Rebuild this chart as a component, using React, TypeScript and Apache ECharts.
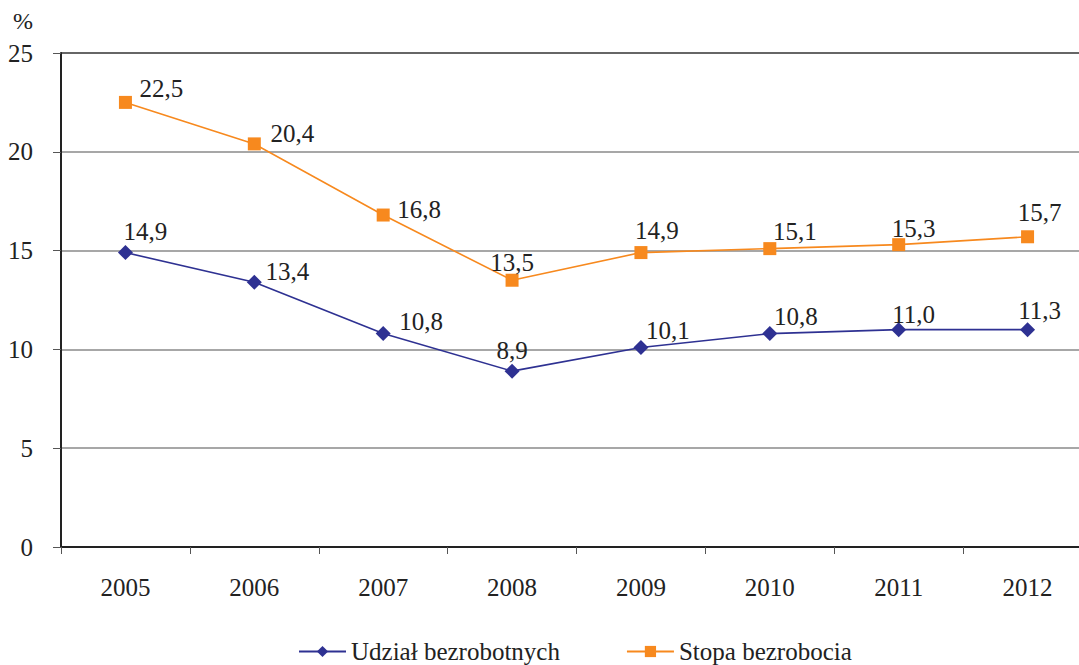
import React, { useEffect, useRef } from "react";
import * as echarts from "echarts";

const years = ["2005", "2006", "2007", "2008", "2009", "2010", "2011", "2012"];
const udzial = [14.9, 13.4, 10.8, 8.9, 10.1, 10.8, 11.0, 11.0];
const udzialLabels = ["14,9", "13,4", "10,8", "8,9", "10,1", "10,8", "11,0", "11,3"];
const stopa = [22.5, 20.4, 16.8, 13.5, 14.9, 15.1, 15.3, 15.7];
const stopaLabels = ["22,5", "20,4", "16,8", "13,5", "14,9", "15,1", "15,3", "15,7"];

const FONT = "'Liberation Serif', 'Times New Roman', Times, serif";
const BLUE = "#2E3192";
const ORANGE = "#F7891E";
const FS = 25;

// label offsets relative to the marker centre
const udzialShift = [[20, -21], [33, -11], [38, -12], [0, -21], [27, -17], [26, -17], [15, -15], [12, -19]];
const stopaShift = [[36, -14], [38, -10], [36, -6], [0, -18], [16, -22], [25, -17], [15, -16], [12, -24]];

export default function App() {
  const ref = useRef<HTMLDivElement>(null);
  useEffect(() => {
    if (!ref.current) return;
    const chart = echarts.init(ref.current, null, { renderer: "svg" });
    const mk = (vals: number[], labels: string[], shifts: number[][]) =>
      vals.map((v, i) => ({
        value: v,
        label: { formatter: labels[i], offset: shifts[i] },
      }));
    const labelStyle = {
      show: true,
      position: "inside",
      fontFamily: FONT,
      fontSize: FS,
      color: "#222",
    };
    chart.setOption({
      animation: false,
      textStyle: { fontFamily: FONT },
      grid: { left: 61, top: 53, right: 8, bottom: 118, containLabel: false },
      graphic: [
        {
          type: "text",
          left: 13,
          top: 9,
          style: { text: "%", fontFamily: FONT, fontSize: 24, fill: "#222" },
        },
      ],
      legend: {
        top: 634,
        left: 293,
        padding: [5, 5, 0, 5],
        itemWidth: 47,
        itemHeight: 14,
        itemGap: 66,
        textStyle: { fontFamily: FONT, fontSize: FS, color: "#222" },
        data: ["Udział bezrobotnych", "Stopa bezrobocia"],
      },
      xAxis: {
        type: "category",
        data: years,
        boundaryGap: true,
        axisLine: { lineStyle: { color: "#222", width: 2 } },
        axisTick: { show: true, length: 7, lineStyle: { color: "#555", width: 1 } },
        axisLabel: { fontFamily: FONT, fontSize: FS, color: "#222", margin: 28 },
      },
      yAxis: {
        type: "value",
        min: 0,
        max: 25,
        interval: 5,
        axisLine: { show: true, lineStyle: { color: "#222", width: 2 } },
        axisTick: { show: true, length: 8, lineStyle: { color: "#555" } },
        axisLabel: { fontFamily: FONT, fontSize: FS, color: "#222", margin: 28 },
        splitLine: {
          show: true,
          lineStyle: { color: ["#222", "#8a8a8a", "#8a8a8a", "#8a8a8a", "#8a8a8a", "#333"], width: 1.5 },
        },
      },
      series: [
        {
          name: "Udział bezrobotnych",
          type: "line",
          data: mk(udzial, udzialLabels, udzialShift),
          symbol: "diamond",
          symbolSize: [15, 15],
          itemStyle: { color: BLUE },
          lineStyle: { color: BLUE, width: 1.6 },
          label: labelStyle,
        },
        {
          name: "Stopa bezrobocia",
          type: "line",
          data: mk(stopa, stopaLabels, stopaShift),
          symbol: "rect",
          symbolSize: [13, 13],
          itemStyle: { color: ORANGE },
          lineStyle: { color: ORANGE, width: 1.6 },
          label: labelStyle,
        },
      ],
    });
    return () => chart.dispose();
  }, []);
  return (
    <div style={{ position: "fixed", left: 0, top: 0, width: 1079, height: 665, overflow: "hidden", background: "#fff" }}>
      <div ref={ref} style={{ width: 1100, height: 665 }} />
    </div>
  );
}
